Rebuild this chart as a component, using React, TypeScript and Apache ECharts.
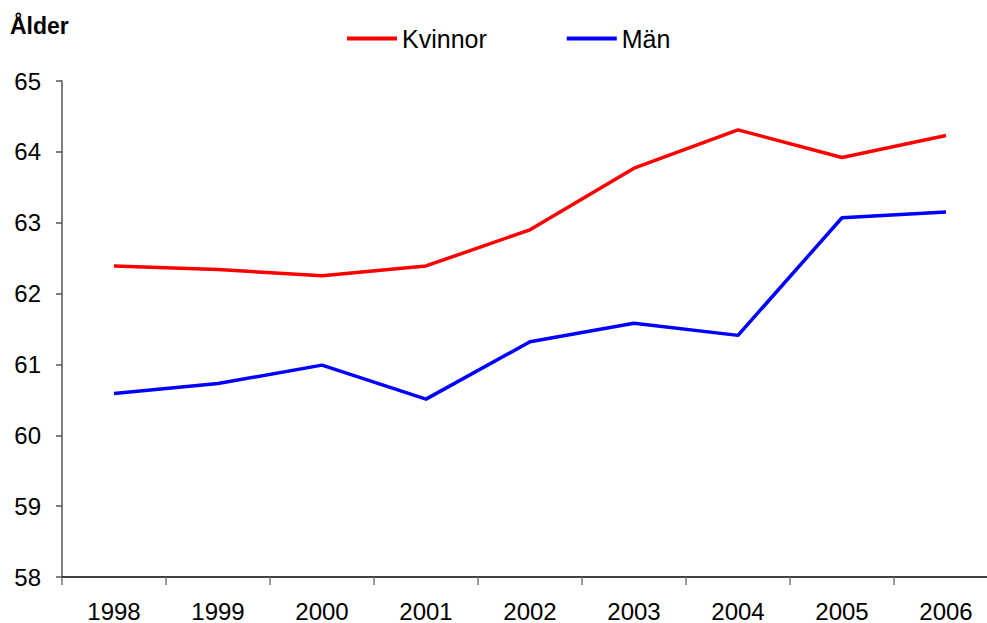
import React, { useEffect, useRef } from "react";
import * as echarts from "echarts";

const years = ["1998", "1999", "2000", "2001", "2002", "2003", "2004", "2005", "2006"];
const kvinnor = [62.39, 62.34, 62.25, 62.39, 62.9, 63.77, 64.31, 63.92, 64.23];
const man = [60.59, 60.73, 60.99, 60.51, 61.32, 61.58, 61.41, 63.07, 63.15];

const FONT = "Liberation Sans, Arial, sans-serif";

export default function App() {
  const ref = useRef<HTMLDivElement>(null);
  useEffect(() => {
    if (!ref.current) return;
    const chart = echarts.init(ref.current, undefined, { renderer: "svg" });
    chart.setOption({
      animation: false,
      backgroundColor: "#fff",
      title: {
        text: "Ålder",
        left: 5,
        top: 9,
        textStyle: { fontFamily: FONT, fontSize: 23, fontWeight: "bold", color: "#000" },
      },
      legend: {
        left: 342,
        top: 21,
        itemWidth: 50,
        itemHeight: 4,
        itemGap: 80,
        icon: "rect",
        textStyle: { fontFamily: FONT, fontSize: 25, color: "#000" },
        data: ["Kvinnor", "Män"],
      },
      grid: { left: 62, right: 2, top: 81, bottom: 45, containLabel: false },
      xAxis: {
        type: "category",
        data: years,
        boundaryGap: true,
        axisLine: { lineStyle: { color: "#000", width: 1.5 } },
        axisTick: { show: true, length: 8, inside: false, lineStyle: { color: "#777", width: 1.5 } },
        axisLabel: { fontFamily: FONT, fontSize: 24, color: "#000", margin: 22 },
        splitLine: { show: false },
      },
      yAxis: {
        type: "value",
        min: 58,
        max: 65,
        interval: 1,
        axisLine: { show: true, lineStyle: { color: "#555", width: 1.5 } },
        axisTick: { show: true, length: 6, lineStyle: { color: "#555", width: 1.5 } },
        axisLabel: { fontFamily: FONT, fontSize: 24, color: "#000", margin: 21 },
        splitLine: { show: false },
      },
      series: [
        {
          name: "Kvinnor",
          type: "line",
          data: kvinnor,
          showSymbol: false,
          symbol: "none",
          lineStyle: { color: "#ff0000", width: 3.5 },
          itemStyle: { color: "#ff0000" },
        },
        {
          name: "Män",
          type: "line",
          data: man,
          showSymbol: false,
          symbol: "none",
          lineStyle: { color: "#0000ff", width: 3.5 },
          itemStyle: { color: "#0000ff" },
        },
      ],
    });
    return () => chart.dispose();
  }, []);
  return (
    <div style={{ position: "absolute", left: 0, top: 0, width: 987, height: 623, overflow: "hidden" }}>
      <div ref={ref} style={{ width: 1000, height: 623 }} />
    </div>
  );
}
